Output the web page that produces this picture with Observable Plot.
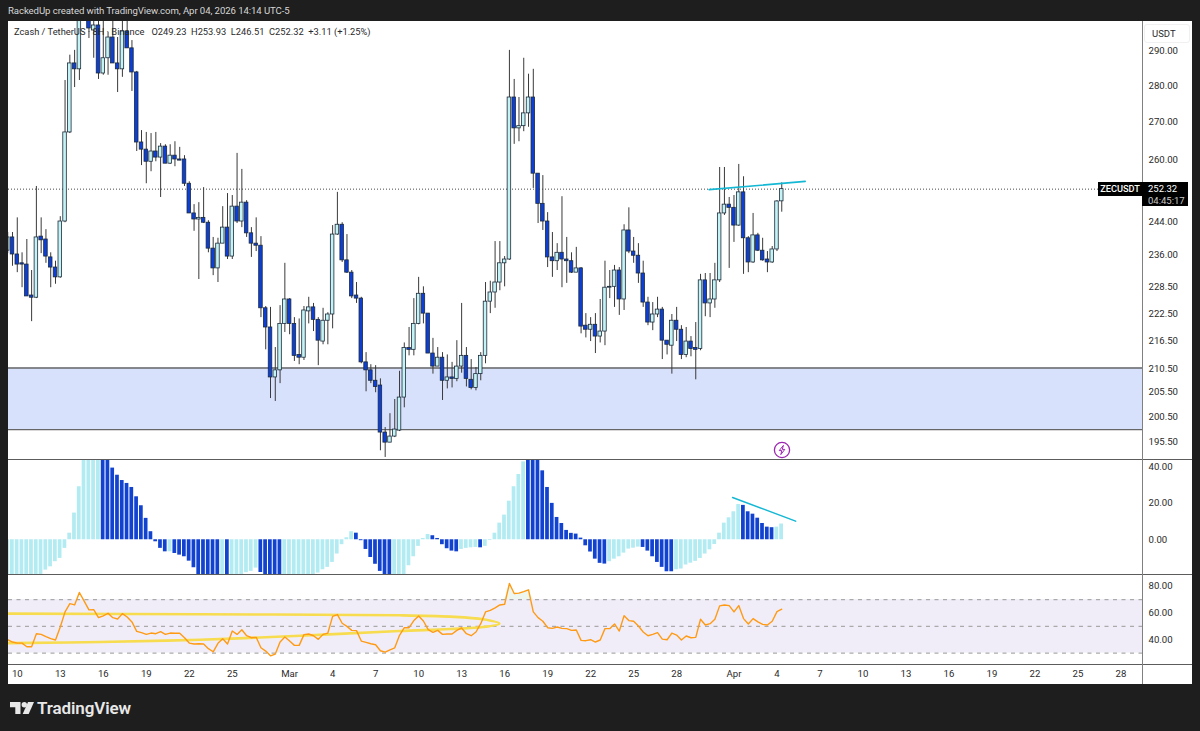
<!DOCTYPE html>
<html><head><meta charset="utf-8">
<script src="https://cdn.jsdelivr.net/npm/d3@7"></script>
<script src="https://cdn.jsdelivr.net/npm/@observablehq/plot@0.6"></script>
<style>
html,body{margin:0;padding:0;background:#1e1e1e;width:1200px;height:731px;overflow:hidden;font-family:Roboto,sans-serif}
#root{position:relative;width:1200px;height:731px}
.abs{position:absolute}
.abs svg{display:block}
.div{position:absolute;background:#5c5c5c}
</style></head><body><div id="root">
<div class="abs" style="left:8px;top:4px;color:#d6d6d6;font-size:9.6px;letter-spacing:-.08px;line-height:14px;white-space:nowrap">RackedUp created with TradingView.com, Apr 04, 2026 14:14 UTC-5</div>
<div class="abs" id="main" style="left:8px;top:21px"></div>
<div class="abs" id="macd" style="left:8px;top:459px"></div>
<div class="abs" id="rsi" style="left:8px;top:574px"></div>
<div class="div" style="left:8px;top:459px;width:1184px;height:1px"></div>
<div class="div" style="left:8px;top:574px;width:1184px;height:1px"></div>
<div class="div" style="left:8px;top:664px;width:1184px;height:1px"></div>
<div class="div" style="left:1142px;top:21px;width:1.4px;height:663px;background:#808080"></div>
<div class="abs" style="left:14px;top:25px;color:#2a2a2a;font-size:9.3px;line-height:14px;white-space:pre">Zcash / TetherUS · 8H · Binance   O249.23  H253.93  L246.51  C252.32  +3.11 (+1.25%)</div>
<div class="abs" style="left:1144px;top:24px;width:46px;height:19px;box-sizing:border-box;border:1px solid #f0f0f0;border-radius:3px;background:#fff;color:#2a2a2a;font-size:9.5px;line-height:18px;padding-left:7px">USDT</div>
<div class="abs" style="left:1098px;top:182px;width:44px;height:14px;background:#000;color:#fff;font-size:9.2px;font-weight:500;line-height:14px;text-align:center">ZECUSDT</div>
<div class="abs" style="left:1142px;top:182px;width:46px;height:24px;background:#000;color:#fff;font-size:9.5px;line-height:11.5px;padding-left:6px;box-sizing:border-box;padding-top:1px">252.32<br><span style="color:#c8c8c8">04:45:17</span></div>
<svg class="abs" style="left:773px;top:441px" width="18" height="18" viewBox="0 0 18 18"><circle cx="9" cy="9" r="7.6" fill="#fff" stroke="#9c27b0" stroke-width="1.3"/><path d="M10.4 4.4 6.2 9.6h2.6l-1 4 4-5.2H9.3z" fill="none" stroke="#9c27b0" stroke-width="1"/></svg>
<svg class="abs" style="left:10px;top:701px" width="24" height="14" viewBox="0 0 24 14"><path d="M0 1h10.5v12H5.3V6.2H0z" fill="#e8e8e8"/><circle cx="14.3" cy="3.7" r="2.7" fill="#e8e8e8"/><path d="M18 1h6l-5.3 12h-6z" fill="#e8e8e8"/></svg>
<div class="abs" style="left:37px;top:698px;color:#e8e8e8;font-size:17px;font-weight:600;line-height:20px;letter-spacing:-.1px">TradingView</div>
</div>
<script>
const opens=[237.1,240.3,236.2,234.1,233.8,226.6,226.1,240.5,239.8,235.5,233.1,230.8,244.2,267.2,286.5,284.8,301,302.3,296.2,297.7,283.6,288.0,294.1,286.5,284.8,295.9,290.9,283.9,264.5,262.6,259.4,262.1,260.5,263.4,258.9,261.0,260.0,260.0,253.7,246.2,244.7,245.1,243.9,237.6,232.9,238.8,242.7,235.7,247.9,244.2,248.9,241.3,238.8,238.3,223.7,219.4,208.6,210.1,220.2,225.7,220.2,213.4,212.8,223.0,223.9,221.1,216.3,220.9,222.3,241.0,243.4,234.8,231.9,226.6,225.9,211.8,210.1,207.9,206.9,197.3,195.3,196.5,197.7,204.4,214.9,214.5,220.2,227.0,222.5,213.7,210.9,212.8,207.9,208.6,208.3,210.9,213.2,208.1,206.4,209.3,213.2,225.2,227.3,229.6,234.1,235.0,276.8,268.3,268.9,272.4,276.8,256.3,248.6,244.2,235.5,234.6,236.6,235.0,234.6,231.9,232.9,219.8,218.9,220.0,217.4,218.5,228.4,228.6,232.4,225.7,242.0,236.9,235.9,231.7,225.0,220.5,222.3,223.4,216.5,215.4,220.9,218.9,213.4,216.3,214.9,214.7,230.1,224.8,225.7,230.1,246.2,248.4,247.6,243.2,251.5,240.1,234.3,240.8,237.1,235.0,234.3,237.4,249.23];
const highs=[241.5,241.5,245.1,236.6,239.8,232.4,253.0,245.1,242.2,236.6,234.6,245.4,281.6,288.9,290.3,302.8,311,305.2,299.2,300.7,300.7,295.6,300.7,294.1,300.7,300.7,293.2,284.2,267.7,267.2,266.9,267.2,264.2,263.9,263.9,264.7,263.2,261.0,254.2,248.4,248.9,252.7,244.4,240.3,240.1,247.9,251.2,250.7,261.6,257.4,249.4,242.7,245.1,240.5,224.1,223.9,215.0,224.3,234.1,225.9,221.6,221.3,224.1,226.2,224.8,221.6,223.7,222.7,243.2,251.5,243.9,241.0,232.4,229.6,226.2,213.9,211.3,211.1,208.3,198.3,201.1,204.0,209.9,216.0,219.4,225.9,230.8,228.6,222.5,217.0,215.0,213.9,213.4,211.8,216.5,224.8,215.0,212.4,210.7,213.9,229.6,229.9,239.3,239.3,235.7,290.3,281.9,276.8,288.0,283.4,284.8,256.3,255.8,246.4,241.5,238.8,250.4,240.3,236.6,237.9,233.1,222.5,221.6,222.5,225.7,234.6,232.4,233.6,233.1,243.4,247.6,240.3,238.8,234.6,226.2,225.0,226.2,223.9,216.5,222.3,223.9,219.8,219.4,217.4,220.5,231.5,231.7,231.7,234.1,257.9,257.9,250.2,250.7,258.7,255.5,240.5,246.2,241.3,240.1,236.9,238.1,249.4,253.93];
const lows=[236.4,233.4,231.9,228.4,226.4,220.7,225.9,236.4,234.1,228.4,229.2,230.6,243.9,266.9,279.6,281.6,300,293.8,288.0,281.9,283.1,283.1,286.5,278.2,282.5,290.9,278.5,262.1,258.4,253.7,256.8,259.4,250.2,258.9,258.7,258.1,259.7,253.0,246.2,241.8,230.3,243.7,236.6,231.2,229.6,238.8,235.0,235.0,243.7,242.7,240.3,235.5,236.9,221.6,214.5,204.2,203.6,207.3,218.3,217.8,212.0,211.3,212.2,220.2,218.5,211.1,215.6,215.6,219.1,240.8,234.3,231.7,225.9,224.8,211.5,205.6,207.3,205.4,193.7,192.4,195.3,196.3,197.5,202.3,213.2,213.2,220.0,220.2,213.7,209.3,210.9,203.8,206.2,206.4,207.7,209.5,206.6,206.0,205.8,207.9,211.5,222.5,223.7,227.7,228.6,234.8,264.0,264.7,267.4,268.6,252.5,243.7,242.0,233.1,230.8,232.4,228.4,229.4,231.7,231.9,218.0,217.1,216.3,213.7,216.0,215.4,225.9,223.9,222.1,223.2,236.4,234.1,229.4,223.9,219.8,218.7,221.6,212.4,213.4,209.3,216.3,212.4,212.8,213.0,208.1,214.3,221.8,221.6,223.7,229.6,245.7,232.9,239.1,243.0,231.5,231.9,234.1,236.9,234.6,231.9,234.1,236.9,246.51];
const closes=[240.3,236.2,233.8,233.8,226.4,226.1,240.3,239.6,235.7,233.1,230.8,244.2,267.2,286.5,284.8,300.7,308,296.8,297.7,283.6,288.0,294.1,286.5,284.8,295.9,290.9,283.9,264.5,262.6,259.4,262.1,260.5,263.4,258.9,261.0,260.0,259.7,253.7,246.2,244.7,245.1,243.9,237.6,232.9,238.8,242.7,235.7,247.9,244.2,248.9,241.3,238.8,238.3,223.7,219.4,208.6,210.1,220.2,225.7,220.2,213.2,212.8,223.2,223.9,221.1,216.5,220.9,222.3,241.0,243.4,234.8,231.9,226.4,225.9,211.8,210.1,207.9,206.6,197.3,195.3,196.5,197.9,204.4,214.9,214.5,220.2,227.0,222.5,213.7,210.9,212.8,207.9,208.6,208.3,210.9,213.2,208.3,206.4,209.3,213.2,225.2,227.3,229.6,234.1,235.0,276.8,268.3,268.9,272.4,276.8,256.3,248.6,244.2,235.5,234.6,236.6,235.0,234.6,231.9,232.9,219.6,218.9,220.0,217.4,218.5,228.4,228.6,232.4,225.7,242.0,236.9,235.9,231.7,225.0,220.5,222.3,223.4,216.5,215.6,220.9,218.9,213.4,216.3,214.7,214.5,230.1,224.8,225.7,230.1,246.2,248.4,247.6,243.2,251.5,240.1,234.3,240.8,237.1,234.8,234.3,237.4,249.2,252.32];

const macdValues=[-24,-24.5,-25,-24,-23,-22,-21,-20,-16.6,-14.8,-12.0,-10.2,-4.7,3.6,14.6,29.0,44,48,50,52,54,46,39.2,35.3,32.4,30.8,28.6,23.5,18.6,11.7,4.4,-1.1,-4.7,-6.6,-6.6,-7.5,-8.4,-9.3,-11.7,-15.3,-20,-21,-22,-22,-21,-20,-20,-21,-21,-20,-18,-17.3,-15.5,-17.9,-20,-22,-23,-23,-24,-25,-26,-26,-25,-23,-20,-18.2,-16.4,-15.1,-12.4,-7.8,-2.7,1.1,4.4,3.6,-0.5,-5.3,-9.7,-13.4,-17.3,-20,-22,-23,-23,-21,-14.2,-9.3,-3.6,0.7,2.9,2.2,0.7,-2.7,-4.9,-6.2,-6.6,-5.3,-4.7,-4.4,-4.2,-4.4,-3.6,-0.4,3.6,9.1,13.5,21.1,29,35.7,42.6,50,55,48,37.7,28.6,19.9,12.2,8.9,5.1,3.5,3.1,0.9,-3.3,-6.7,-10.6,-12.9,-13.3,-12,-10.6,-9.3,-7.3,-5.1,-4.6,-4,-4.2,-6.2,-9.3,-12.4,-15.1,-17.5,-17.5,-16.4,-16,-13.8,-12.8,-11.8,-10.2,-7.8,-5.5,-2.6,3.6,9.1,12,15.3,19.3,18.8,15.3,14,11.8,8.9,6.9,6.6,6.9,8.6];
// l = pale bar, d = dark bar
const macdShades=("l".repeat(20)+"d".repeat(14)+"l"+"d".repeat(10)+"l"+"d"+"l".repeat(6)+"d".repeat(5)+"l".repeat(15)+"d".repeat(8)+"ll"+"l".repeat(6)+"d".repeat(6)+"l".repeat(4)+"d"+"l".repeat(9)+"d".repeat(17)+"l".repeat(7)+"d".repeat(7)+"l".repeat(14)+"d".repeat(7)+"ll").split("");

const rsiValues=[40,38.3,37.5,37.5,34.8,34.8,44.5,44,42.3,40.8,39.8,49.5,60.8,67,66,75.3,68.8,62.3,62.5,56.5,57.8,59.8,56.5,55.5,59.5,57,53.3,46.3,45.3,44,45,44.5,46,44,45,44.8,44.8,41.5,37.5,36.8,37,36.8,33.3,31,37.3,40.8,36.8,46.5,44,47.5,43,41.5,41.8,34,31.5,28,29.3,38.3,42,39,35.8,35.8,43.8,44.3,43,40.3,44,45,57.5,58.8,52.3,50,47,46.8,39,38,37,36.3,31.8,30.8,32.5,34,43.3,49,49,54.3,57.8,54,47.5,45.5,47,44,44.3,44.3,47,48.8,44.5,43,45.8,52,60.8,62,63.8,66,66.5,82,74.5,74.8,76,77.3,60.8,56.5,53.8,49,48.5,49.5,48.5,48.3,47,47.3,39.5,39.3,40,38.3,39.8,48.3,48.3,51.8,46.5,58,54.3,53.8,50.3,45.8,43,44,45.3,40.5,40,45,43.5,39.8,42.8,41.5,41.8,55.3,51,52,55.3,65.3,66,65.5,60.8,65.5,55.8,51.8,55.8,53.3,51.5,51,53.8,61,62.8];

const priceTicks=[290,280,270,260,244,236,228.5,222.5,216.5,210.5,205.5,200.5,195.5];
const macdTicks=[40,20,0];
const rsiTicks=[80,60,40];
const rsiLevels=[70,50,30];
const timeTickIndex=[2,11,20,29,38,47,59,68,77,86,95,104,113,122,131,140,152,161,170,179,188,197,206,215,224,233];
const timeTickLabels=["10","13","16","19","22","25","Mar","4","7","10","13","16","19","22","25","28","Apr","4","7","10","13","16","19","22","25","28"];
const zoneLow=197.9, zoneHigh=210.6, lastPrice=252.32;
const priceTrendI=[146.8,166.9], priceTrendV=[252.2,254.3];
const macdTrendI=[151.7,164.9], macdTrendV=[23.1,10.2];
const ovalI=[-3,0,40,82,92.6,99.5,102.9,99.5,92.6,82,61.2,40.3,19.4,0,-3];
const ovalV=[59.6,59.5,59,58.25,57.25,55.25,52,49.5,48,46.5,43,40,38.3,37.5,37.5];

const fontFamily="Roboto, sans-serif";
const xDomain=[0.163,237.5];
const bars=opens.map((o,i)=>({i,o,h:highs[i],l:lows[i],c:closes[i],up:closes[i]>=o}));
const UP="#c4f3f5", DOWN="#0d3fd6", WICK="#3a3a3a", PALE="#b2ebf2", DARK="#1242d0", CYAN="#14b8d4";
const axisY=(ticks)=>Plot.axisY({anchor:"right",ticks,tickSize:0,tickPadding:6,tickFormat:d3.format(".2f"),label:null,textAnchor:"start",fill:"#2a2a2a"});

const main=Plot.plot({width:1184,height:438,marginLeft:0,marginRight:50,marginTop:0,marginBottom:0,
  style:{background:"#fff",fontFamily,fontSize:"9.6px",overflow:"hidden"},
  x:{domain:xDomain,axis:null},
  y:{type:"log",domain:[192.0,298.9],axis:null},
  marks:[
    Plot.rectY([0],{x1:xDomain[0],x2:xDomain[1],y1:zoneLow,y2:zoneHigh,fill:"#d7e1fb"}),
    Plot.ruleY([zoneLow,zoneHigh],{stroke:"#666",strokeWidth:1.3}),
    Plot.ruleY([lastPrice],{stroke:"#333",strokeWidth:0.9,strokeDasharray:"1,2"}),
    Plot.ruleX(bars,{x:"i",y1:"l",y2:"h",stroke:WICK,strokeWidth:1,clip:true}),
    Plot.rect(bars,{x1:d=>d.i-0.37,x2:d=>d.i+0.37,y1:"o",y2:"c",fill:d=>d.up?UP:DOWN,stroke:"#1c2a3a",strokeWidth:0.8,clip:true}),
    Plot.line(priceTrendI.map((x,k)=>({x,y:priceTrendV[k]})),{x:"x",y:"y",stroke:CYAN,strokeWidth:1.6}),
    axisY(priceTicks)
  ]});
document.getElementById("main").append(main);

const macdData=macdValues.map((v,i)=>({i,v,s:macdShades[i]}));
const macd=Plot.plot({width:1184,height:115,marginLeft:0,marginRight:50,marginTop:0,marginBottom:0,
  style:{background:"#fff",fontFamily,fontSize:"9.6px",overflow:"hidden"},
  x:{domain:xDomain,axis:null},
  y:{domain:[-19,43.9],axis:null},
  marks:[
    Plot.rect(macdData,{x1:d=>d.i-0.42,x2:d=>d.i+0.36,y1:0,y2:"v",fill:d=>d.s==="d"?DARK:PALE,clip:true}),
    Plot.line(macdTrendI.map((x,k)=>({x,y:macdTrendV[k]})),{x:"x",y:"y",stroke:CYAN,strokeWidth:1.5}),
    axisY(macdTicks)
  ]});
document.getElementById("macd").append(macd);

const rsiData=rsiValues.map((v,i)=>({i,v}));
const oval=ovalI.map((x,k)=>({x,y:ovalV[k]}));
const rsi=Plot.plot({width:1184,height:110,marginLeft:0,marginRight:50,marginTop:0,marginBottom:20,
  style:{background:"#fff",fontFamily,fontSize:"9.6px",overflow:"hidden"},
  x:{domain:xDomain,axis:null},
  y:{domain:[21.5,88.75],axis:null},
  marks:[
    Plot.rectY([0],{x1:xDomain[0],x2:xDomain[1],y1:30,y2:70,fill:"#7e57c2",fillOpacity:0.11}),
    Plot.ruleY(rsiLevels,{stroke:"#aaa",strokeWidth:1.2,strokeDasharray:"4,4.5"}),
    Plot.areaY(rsiData.filter(d=>d.i>=104&&d.i<=110),{x:"i",y1:70,y2:d=>Math.max(70,d.v),fill:"#c8e6c9",fillOpacity:0.3}),
    Plot.line(oval,{x:"x",y:"y",curve:"catmull-rom",stroke:"#f7dc4f",strokeWidth:2.6,clip:true}),
    Plot.line(rsiData,{x:"i",y:"v",stroke:"#ff9a14",strokeWidth:1.4,clip:true}),
    axisY(rsiTicks),
    Plot.axisX({anchor:"bottom",ticks:timeTickIndex,tickSize:0,tickPadding:6,tickFormat:d=>timeTickLabels[timeTickIndex.indexOf(d)],label:null,fill:"#2a2a2a"})
  ]});
document.getElementById("rsi").append(rsi);
</script>
</body></html>
